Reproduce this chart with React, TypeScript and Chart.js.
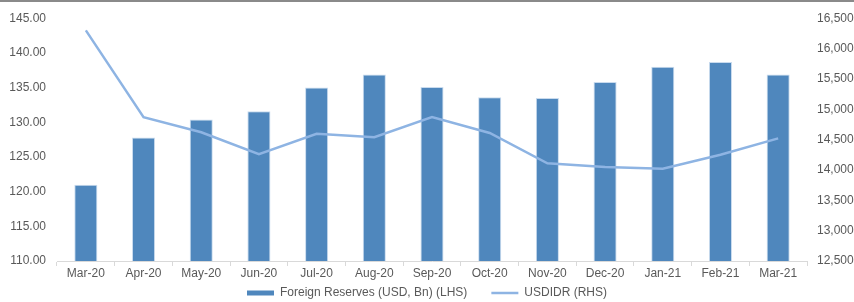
import React, { useEffect, useRef } from 'react';
import { Chart, registerables } from 'chart.js';

Chart.register(...registerables);

const categories = ['Mar-20', 'Apr-20', 'May-20', 'Jun-20', 'Jul-20', 'Aug-20', 'Sep-20', 'Oct-20', 'Nov-20', 'Dec-20', 'Jan-21', 'Feb-21', 'Mar-21'];
const reserves = [121.0, 127.8, 130.4, 131.6, 135.0, 136.9, 135.1, 133.6, 133.5, 135.8, 138.0, 138.7, 136.9];
const usdidr = [16300, 14870, 14620, 14260, 14595, 14540, 14870, 14610, 14110, 14050, 14020, 14250, 14520];
const seriesNames = ['Foreign Reserves (USD, Bn) (LHS)', 'USDIDR (RHS)'];
const leftAxis = { min: 110, max: 145, step: 5 };
const rightAxis = { min: 12500, max: 16500, step: 500 };

const BAR = '#4F87BD';
const LINE = '#8EB4E3';
const TEXT = '#595959';
const FONT = { family: '"Liberation Sans", Arial, sans-serif', size: 12 };

export default function App() {
  const ref = useRef<HTMLCanvasElement | null>(null);

  useEffect(() => {
    document.body.style.margin = '0';
    const canvas = ref.current;
    if (!canvas) return;
    const chart = new Chart(canvas, {
      type: 'bar',
      data: {
        labels: categories,
        datasets: [
          {
            type: 'bar',
            label: seriesNames[0],
            data: reserves,
            yAxisID: 'yL',
            backgroundColor: BAR,
            borderColor: '#C9DBEE',
            borderWidth: 1,
            categoryPercentage: 1,
            barPercentage: 0.4,
            order: 1,
          },
          {
            type: 'line',
            label: seriesNames[1],
            data: usdidr,
            yAxisID: 'yR',
            borderColor: LINE,
            backgroundColor: LINE,
            borderWidth: 2.5,
            pointRadius: 0,
            tension: 0,
            order: 0,
          },
        ],
      },
      options: {
        animation: false,
        responsive: false,
        maintainAspectRatio: false,
        layout: { padding: { top: 17, left: 0, right: 0, bottom: 0 } },
        plugins: {
          tooltip: { enabled: false },
          legend: {
            position: 'bottom',
            labels: {
              font: FONT,
              color: TEXT,
              usePointStyle: true,
              pointStyleWidth: 27,
              boxHeight: 5,
              padding: 4,
              generateLabels: () => [
                { text: seriesNames[0] + '      ', fillStyle: BAR, strokeStyle: BAR, lineWidth: 0, pointStyle: 'rect', datasetIndex: 0, hidden: false, fontColor: TEXT },
                { text: seriesNames[1], fillStyle: LINE, strokeStyle: LINE, lineWidth: 2.5, pointStyle: 'line', datasetIndex: 1, hidden: false, fontColor: TEXT },
              ],
            },
          },
        },
        scales: {
          x: {
            offset: true,
            grid: { display: true, offset: true, drawOnChartArea: false, drawTicks: true, tickLength: 5, color: '#D9D9D9' },
            border: { display: true, color: '#D9D9D9' },
            ticks: { font: FONT, color: TEXT, padding: 0, maxRotation: 0, autoSkip: false },
            afterFit: (s: any) => { s.height = 22; },
          },
          yL: {
            position: 'left',
            min: leftAxis.min,
            max: leftAxis.max,
            grid: { display: false, drawTicks: false },
            border: { display: false },
            ticks: { stepSize: leftAxis.step, font: FONT, color: TEXT, padding: 11, callback: (v: any) => Number(v).toFixed(2) },
            afterFit: (s: any) => { s.width = 57; },
          },
          yR: {
            position: 'right',
            min: rightAxis.min,
            max: rightAxis.max,
            grid: { display: false, drawTicks: false },
            border: { display: false },
            ticks: { stepSize: rightAxis.step, font: FONT, color: TEXT, padding: 10, callback: (v: any) => Number(v).toLocaleString('en-US') },
            afterFit: (s: any) => { s.width = 47; },
          },
        },
      },
    });
    return () => chart.destroy();
  }, []);

  return (
    <div style={{ position: 'relative', width: 854, height: 302, overflow: 'hidden', background: '#fff' }}>
      <canvas ref={ref} width={854} height={309} style={{ position: 'absolute', left: 0, top: 0, width: 854, height: 309 }} />
      <div style={{ position: 'absolute', left: 0, top: 0, width: 854, height: 2, background: '#8A8A8A' }} />
    </div>
  );
}
